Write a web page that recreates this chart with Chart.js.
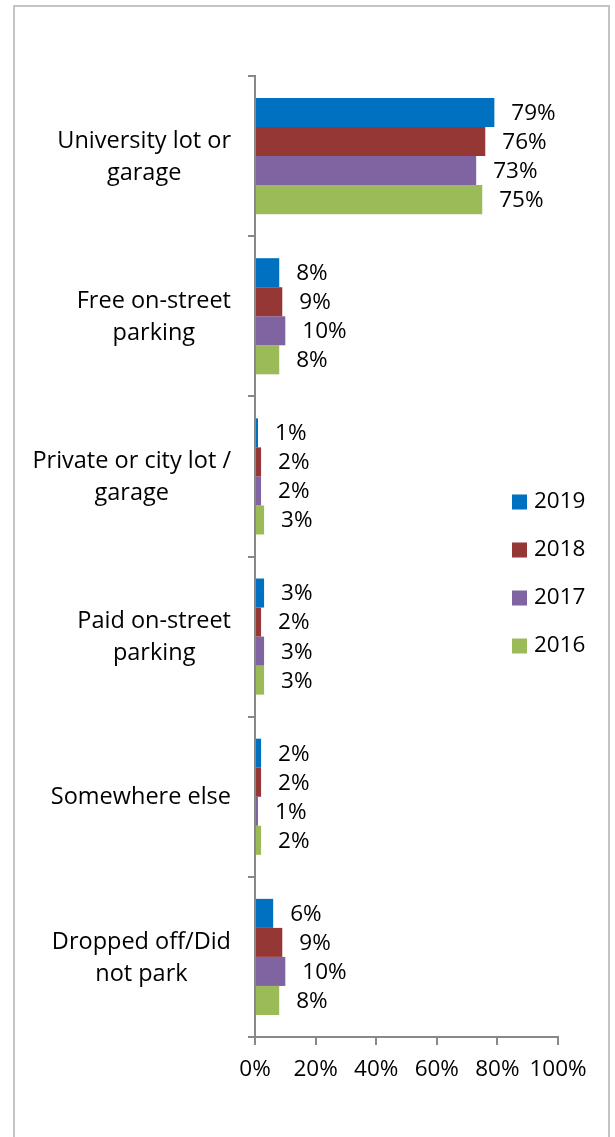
<!DOCTYPE html>
<html>
<head>
<meta charset="utf-8">
<script src="https://cdn.jsdelivr.net/npm/chart.js@4"></script>
<style>
  html, body { margin: 0; padding: 0; background: #fff; }
  #wrap { position: relative; width: 615px; height: 1137px; overflow: hidden; }
  #frame { position: absolute; left: 13px; top: 5px; width: 597px; height: 1200px; border: 2px solid #c4c4c4; box-sizing: border-box; pointer-events: none; }
  canvas { position: absolute; left: 0; top: 0; }
</style>
</head>
<body>
<div id="wrap">
  <canvas id="c" width="615" height="1137"></canvas>
  <div id="frame"></div>
</div>
<script>
const categories = [
  ["University lot or", "garage"],
  ["Free on-street", "parking"],
  ["Private or city lot /", "garage"],
  ["Paid on-street", "parking"],
  ["Somewhere else"],
  ["Dropped off/Did", "not park"]
];
const seriesNames = ["2019", "2018", "2017", "2016"];
const values2019 = [79, 8, 1, 3, 2, 6];
const values2018 = [76, 9, 2, 2, 2, 9];
const values2017 = [73, 10, 2, 3, 1, 10];
const values2016 = [75, 8, 3, 3, 2, 8];
const seriesColors = ["#0070C0", "#953735", "#8064A2", "#9BBB59"];
const xTicks = [0, 20, 40, 60, 80, 100];

const FONT = "'Open Sans', 'Liberation Sans', sans-serif";
const FS = 22.5;
const CAT_FS = 23.5;

const labelPlugin = {
  id: 'valueLabels',
  afterDatasetsDraw(chart) {
    const ctx = chart.ctx;
    ctx.save();
    ctx.font = FS + "px " + FONT;
    ctx.fillStyle = "#000";
    ctx.textAlign = "left";
    ctx.textBaseline = "middle";
    chart.data.datasets.forEach((ds, i) => {
      const meta = chart.getDatasetMeta(i);
      meta.data.forEach((bar, j) => {
        ctx.fillText(ds.data[j] + "%", bar.x + 17, bar.y + 1);
      });
    });
    ctx.restore();
  }
};

const categoryLabelPlugin = {
  id: 'categoryLabels',
  afterDraw(chart) {
    const ctx = chart.ctx;
    const scale = chart.scales.y;
    ctx.save();
    ctx.font = CAT_FS + "px " + FONT;
    ctx.fillStyle = "#000";
    ctx.textAlign = "center";
    ctx.textBaseline = "middle";
    const lineH = 32;
    const rightEdge = 231;
    chart.data.labels.forEach((lines, i) => {
      const cy = scale.getPixelForTick(i);
      const w = Math.max(...lines.map(l => ctx.measureText(l).width));
      const cx = rightEdge - w / 2;
      lines.forEach((l, k) => {
        const y = cy + (k - (lines.length - 1) / 2) * lineH + 1;
        ctx.fillText(l, cx, y);
      });
    });
    ctx.restore();
  }
};

const legendPlugin = {
  id: 'customLegend',
  afterDraw(chart) {
    const ctx = chart.ctx;
    ctx.save();
    ctx.font = FS + "px " + FONT;
    ctx.textAlign = "left";
    ctx.textBaseline = "middle";
    chart.data.datasets.forEach((ds, i) => {
      const cy = 502 + i * 48;
      ctx.fillStyle = ds.backgroundColor;
      ctx.fillRect(512, cy - 7.5, 15, 15);
      ctx.fillStyle = "#000";
      ctx.fillText(ds.label, 534, cy);
    });
    ctx.restore();
  }
};

const seriesValues = [values2019, values2018, values2017, values2016];

new Chart(document.getElementById('c'), {
  type: 'bar',
  data: {
    labels: categories,
    datasets: seriesNames.map((n, i) => ({
      label: n,
      data: seriesValues[i],
      backgroundColor: seriesColors[i],
      borderWidth: 0,
      categoryPercentage: 0.725,
      barPercentage: 1.0
    }))
  },
  options: {
    indexAxis: 'y',
    responsive: false,
    animation: false,
    layout: { padding: { top: 76, right: 57, bottom: 40, left: 0 } },
    plugins: {
      legend: { display: false },
      tooltip: { enabled: false }
    },
    scales: {
      x: {
        min: 0, max: 100,
        afterBuildTicks(scale) { scale.ticks = xTicks.map(v => ({ value: v })); },
        afterFit(scale) { scale.height = 60; },
        ticks: {
          callback: v => v + '%',
          color: '#000',
          font: { family: FONT, size: FS },
          padding: 11,
          maxRotation: 0
        },
        grid: { drawOnChartArea: false, drawTicks: true, tickLength: 8, color: '#888', lineWidth: 2 },
        border: { display: true, color: '#888', width: 2 }
      },
      y: {
        afterFit(scale) { scale.width = 255; },
        ticks: { display: false },
        grid: { offset: true, drawOnChartArea: false, drawTicks: true, tickLength: 7, color: '#888', lineWidth: 2 },
        border: { display: true, color: '#888', width: 2 }
      }
    }
  },
  plugins: [labelPlugin, categoryLabelPlugin, legendPlugin]
});
</script>
</body>
</html>
